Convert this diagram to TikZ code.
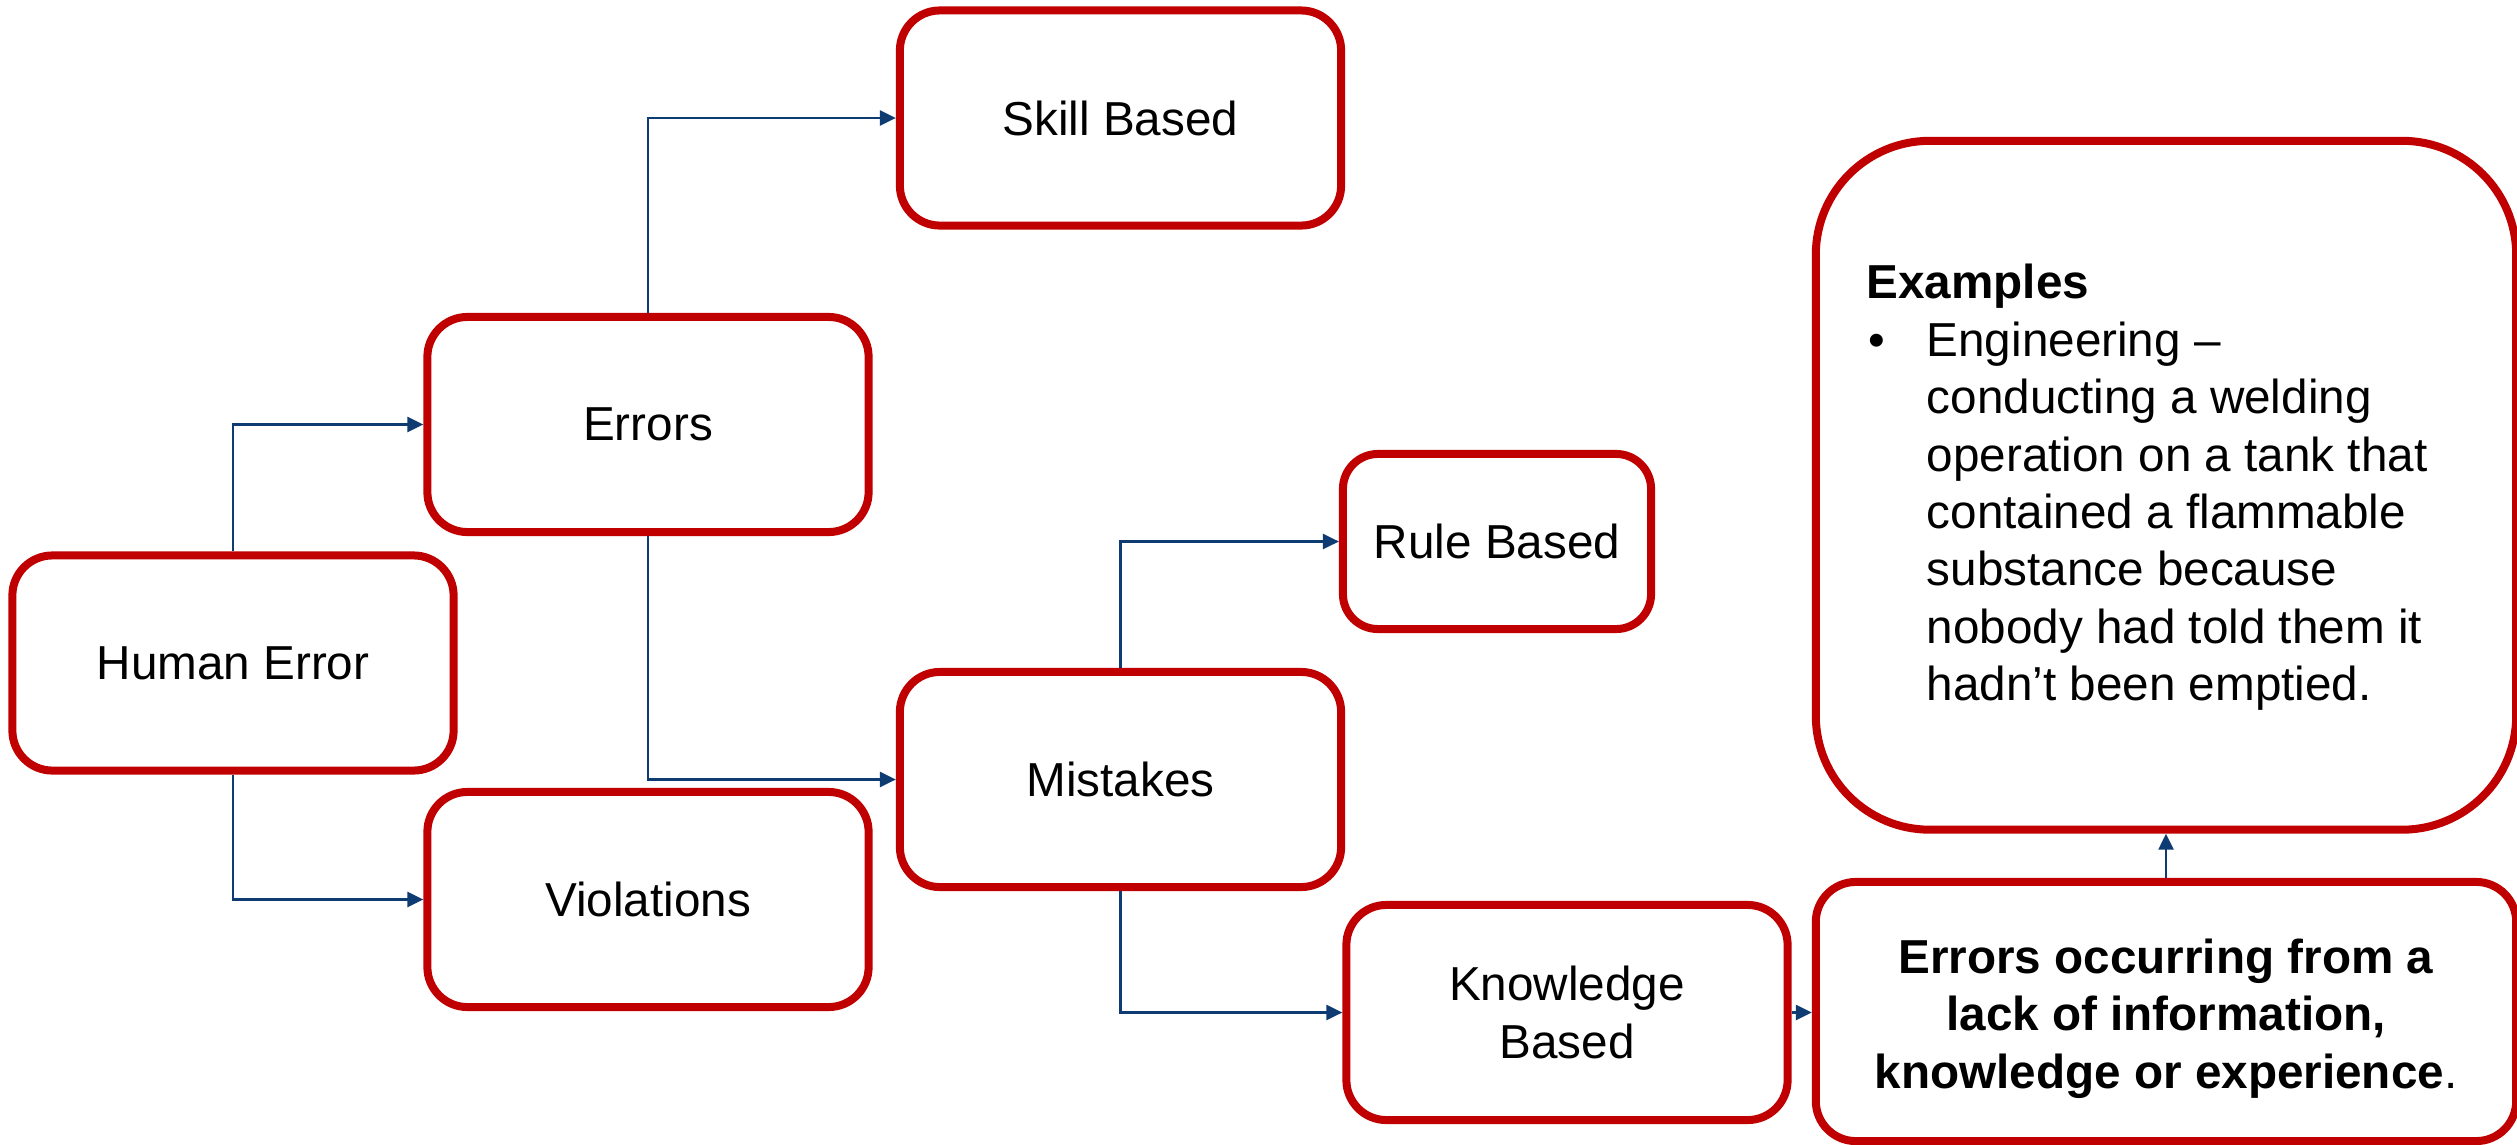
\documentclass[tikz,border=0pt]{standalone}
\usepackage{fontspec}
\setmainfont{Liberation Sans}
\usetikzlibrary{arrows.meta}
\definecolor{boxred}{RGB}{192,0,0}
\definecolor{linkblue}{HTML}{0F3B73}
\begin{document}
\begin{tikzpicture}[x=0.01cm,y=-0.01cm,
  txtfont/.style={font=\fontsize{13.55pt}{16.3pt}\selectfont},
  box/.style={draw=boxred, line width=0.08cm, rounded corners=0.4cm, fill=white,
    minimum width=4.41cm, minimum height=2.15cm, inner sep=0pt, align=center, txtfont},
  txt/.style={inner sep=0pt, txtfont},
  link/.style={draw=linkblue, line width=0.025cm, -{Triangle[length=0.16cm,width=0.15cm]}}
]
\clip (0,0) rectangle (2517,1145);
\fill[white] (0,0) rectangle (2517,1145);
% boxes
\node[box] (he) at (233,663) {Human Error};
\node[box] (er) at (648,424.5) {Errors};
\node[box] (vi) at (648,899.5) {Violations};
\node[box] (sk) at (1120.5,118) {Skill Based};
\node[box] (mi) at (1120.5,779.5) {Mistakes};
\node[box, minimum width=3.08cm, minimum height=1.75cm, rounded corners=0.35cm] (rb) at (1497,541.5) {Rule Based};
\node[box] (kb) at (1567,1012.5) {Knowledge\\Based};
\node[box, minimum width=7cm, minimum height=2.59cm] (eo) at (2166,1011.5) {};
\node[box, minimum width=7cm, minimum height=6.885cm, rounded corners=1.14cm] (ex) at (2166,485.25) {};
% texts of the right-hand boxes
\node[txt, anchor=north, align=center] (eotext) at (2166,932.75)
  {\strut\textbf{Errors occurring from a}\\\textbf{lack of information,}\\\textbf{knowledge or experience}.};
\node[txt, anchor=base west] (exhead) at (1866,298.7) {\textbf{Examples}};
\node[txt, anchor=base west] (exbullet) at (1868,356) {•};
\node[txt, anchor=north west, align=left] (exbody) at (1926,315.75)
  {\strut Engineering –\\conducting a welding\\operation on a tank that\\contained a flammable\\substance because\\nobody had told them it\\hadn’t been emptied.};
% connectors
\draw[link] (he.north) |- (er.west);
\draw[link] (he.south) |- (vi.west);
\draw[link] (er.north) |- (sk.west);
\draw[link] (er.south) |- (mi.west);
\draw[link] (mi.north) |- (rb.west);
\draw[link] (mi.south) |- (kb.west);
\draw[link] (kb.east) -- (kb.east -| eo.west);
\draw[link] (eo.north) -- (ex.south);
\end{tikzpicture}
\end{document}
